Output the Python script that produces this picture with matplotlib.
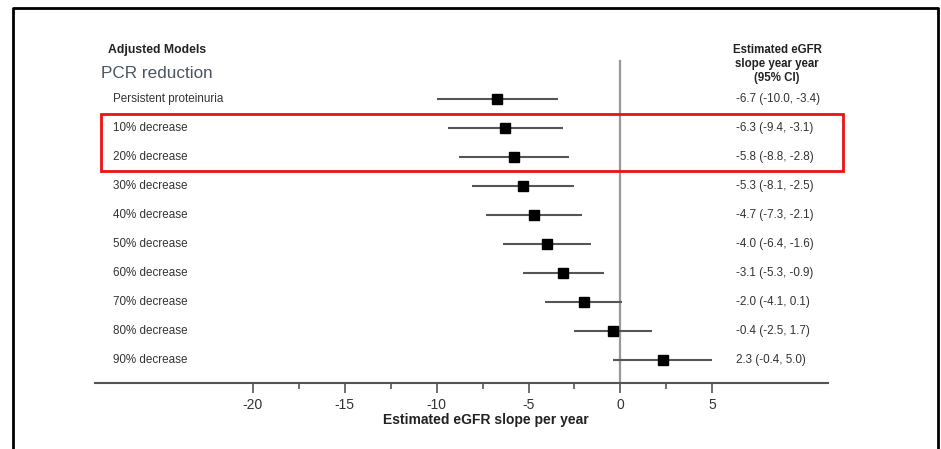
import matplotlib
matplotlib.use("Agg")
import matplotlib.pyplot as plt
from matplotlib.patches import Rectangle
from matplotlib.lines import Line2D
from matplotlib.ticker import FixedLocator

plt.rcParams['font.family'] = ['Liberation Sans', 'DejaVu Sans']

categories = ["Persistent proteinuria", "10% decrease", "20% decrease", "30% decrease",
              "40% decrease", "50% decrease", "60% decrease", "70% decrease",
              "80% decrease", "90% decrease"]
estimates = [-6.7, -6.3, -5.8, -5.3, -4.7, -4.0, -3.1, -2.0, -0.4, 2.3]
lower = [-10.0, -9.4, -8.8, -8.1, -7.3, -6.4, -5.3, -4.1, -2.5, -0.4]
upper = [-3.4, -3.1, -2.8, -2.5, -2.1, -1.6, -0.9, 0.1, 1.7, 5.0]
ci_labels = ["-6.7 (-10.0, -3.4)", "-6.3 (-9.4, -3.1)", "-5.8 (-8.8, -2.8)",
             "-5.3 (-8.1, -2.5)", "-4.7 (-7.3, -2.1)", "-4.0 (-6.4, -1.6)",
             "-3.1 (-5.3, -0.9)", "-2.0 (-4.1, 0.1)", "-0.4 (-2.5, 1.7)",
             "2.3 (-0.4, 5.0)"]
major_ticks = [-20, -15, -10, -5, 0, 5]
minor_ticks = [-17.5, -12.5, -7.5, -2.5, 2.5]

W, H = 941, 449
fig = plt.figure(figsize=(W / 100, H / 100), dpi=100)

def fx(px):
    return px / W

def fy(py):
    return 1 - py / H

ax_left, ax_right, ax_top, ax_bot = 95, 828, 40, 383
ax = fig.add_axes([fx(ax_left), fy(ax_bot), fx(ax_right - ax_left), (ax_bot - ax_top) / H])
row0, dy = 99, 29
ax.set_ylim((ax_bot - row0) / dy, (ax_top - row0) / dy)
ax.set_xlim(-28.6, 11.3)

ys = list(range(len(categories)))
for i in ys:
    ax.plot([lower[i], upper[i]], [i, i], color='#555555', lw=1.5, solid_capstyle='butt', zorder=2)
ax.plot(estimates, ys, 's', color='black', markersize=7, zorder=3)
ax.plot([0, 0], [(61 - row0) / dy, ax.get_ylim()[0]], color='#999999', lw=1.6, zorder=1)

for s in ['top', 'right', 'left']:
    ax.spines[s].set_visible(False)
ax.spines['bottom'].set_color('#555555')
ax.spines['bottom'].set_linewidth(1.5)
ax.set_yticks([])
ax.xaxis.set_major_locator(FixedLocator(major_ticks))
ax.xaxis.set_minor_locator(FixedLocator(minor_ticks))
ax.tick_params(axis='x', which='major', length=7, width=1.2, color='#555555',
               labelsize=10, labelcolor='#333333', pad=4)
ax.tick_params(axis='x', which='minor', length=4, width=1.2, color='#555555')
ax.set_xticklabels([str(t) for t in major_ticks])

fig.text(fx(486), fy(420), "Estimated eGFR slope per year", fontsize=10,
         fontweight='bold', color='#222222', va='center', ha='center')

for i, (c, t) in enumerate(zip(categories, ci_labels)):
    py = row0 + dy * i
    fig.text(fx(113), fy(py), c, fontsize=8.4, color='#333333', va='center', ha='left')
    fig.text(fx(736), fy(py), t, fontsize=8.4, color='#333333', va='center', ha='left')

fig.text(fx(108), fy(50), "Adjusted Models", fontsize=8.8, fontweight='bold',
         color='#222222', va='center', ha='left')
fig.text(fx(101), fy(74), "PCR reduction", fontsize=12.3, color='#4a5560',
         va='center', ha='left')
fig.text(fx(777), fy(64), "Estimated eGFR\nslope year year\n(95% CI)", fontsize=8.3,
         fontweight='bold', color='#222222', va='center', ha='center', linespacing=1.22)

fig.patches.append(Rectangle((fx(101), fy(171)), fx(843 - 101), (171 - 114) / H,
                             transform=fig.transFigure, fill=False, edgecolor='#ee1111',
                             linewidth=2, zorder=5))
fig.lines.append(Line2D([fx(13), fx(13), fx(938), fx(938)], [0, fy(8), fy(8), 0],
                        transform=fig.transFigure, color='black', linewidth=2))

fig.savefig("out.png", dpi=100)
